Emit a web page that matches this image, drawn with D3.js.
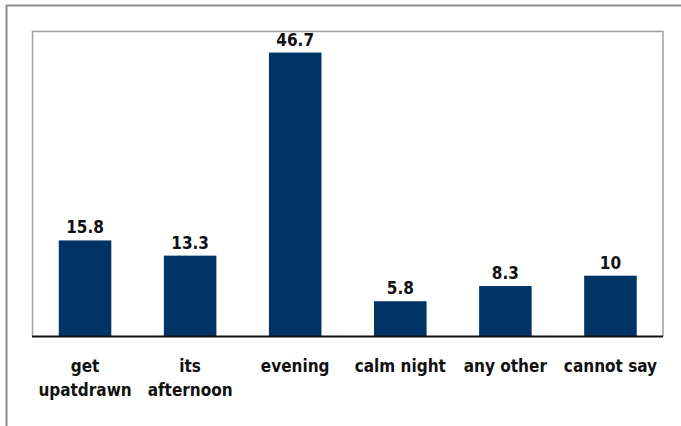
<!DOCTYPE html>
<html><head><meta charset="utf-8">
<script src="https://cdn.jsdelivr.net/npm/d3@7"></script>
<style>body{margin:0;background:#fff}svg{display:block}</style>
</head><body>
<script>
const categories = [["get","upatdrawn"],["its","afternoon"],["evening"],["calm night"],["any other"],["cannot say"]];
const values = [15.8, 13.3, 46.7, 5.8, 8.3, 10];
const labels = ["15.8","13.3","46.7","5.8","8.3","10"];

const W = 681, H = 426;
const svg = d3.select("body").append("svg").attr("width", W).attr("height", H);
const font = "'DejaVu Sans Condensed','DejaVu Sans',sans-serif";

// outer frame
svg.append("path").attr("d", `M6.5,${H} V5.5 H${W}`).attr("fill","none").attr("stroke","#8c8c8c").attr("stroke-width",2);

const plot = {l:32.5, t:31.5, r:663, b:336.5};
svg.append("path").attr("d", `M${plot.l},${plot.b} V${plot.t} H${plot.r} V${plot.b}`)
  .attr("fill","none").attr("stroke","#a0a0a0").attr("stroke-width",1.5);

const x = d3.scaleBand().domain(d3.range(categories.length)).range([plot.l, plot.r])
  .paddingInner(0.5).paddingOuter(0.25);
const y = d3.scaleLinear().domain([0, 50]).range([plot.b, plot.b - 50*6.08]);

svg.selectAll("rect.bar").data(values).join("rect").attr("class","bar")
  .attr("x",(d,i)=>x(i)).attr("width",x.bandwidth())
  .attr("y",d=>y(d)).attr("height",d=>y(0)-y(d))
  .attr("fill","#003366");

svg.selectAll("text.val").data(values).join("text").attr("class","val")
  .attr("x",(d,i)=>x(i)+x.bandwidth()/2).attr("y",d=>y(d)-7)
  .attr("text-anchor","middle").attr("font-family",font).attr("font-weight","bold")
  .attr("font-size",17).attr("fill","#111").text((d,i)=>labels[i]);

svg.append("line").attr("x1",plot.l-0.5).attr("x2",plot.r).attr("y1",plot.b).attr("y2",plot.b)
  .attr("stroke","#111").attr("stroke-width",2);

const cat = svg.selectAll("text.cat").data(categories).join("text").attr("class","cat")
  .attr("x",(d,i)=>x(i)+x.bandwidth()/2).attr("y",372)
  .attr("text-anchor","middle").attr("font-family",font).attr("font-weight","bold")
  .attr("font-size",17).attr("fill","#111");
cat.each(function(d){
  const t = d3.select(this);
  d.forEach((s,j)=>t.append("tspan").attr("x",t.attr("x")).attr("dy", j===0?0:24).text(s));
});
</script>
</body></html>
